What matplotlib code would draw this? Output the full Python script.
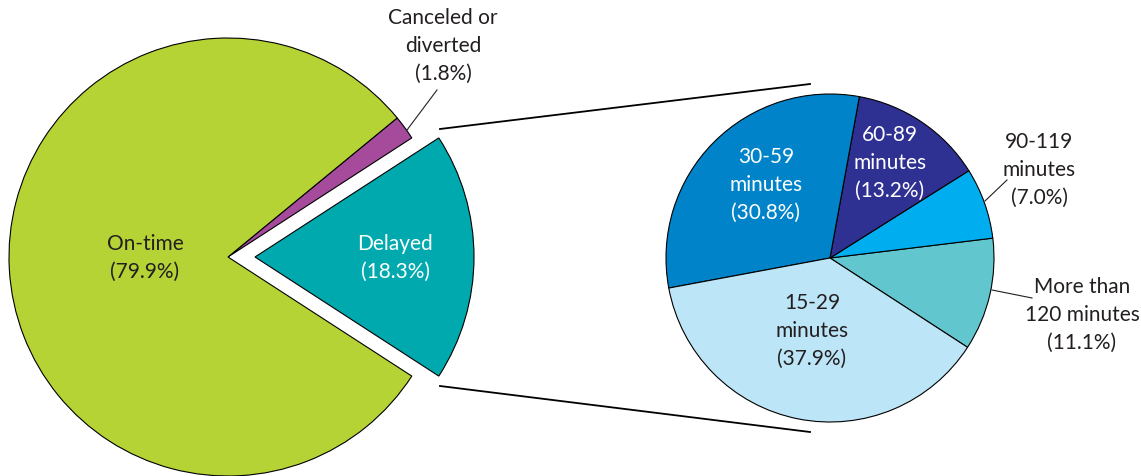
import matplotlib
matplotlib.use('Agg')
import matplotlib.pyplot as plt

# Flight status shares (%)
status_labels = ['Delayed\n(18.3%)', 'Canceled or\ndiverted\n(1.8%)', 'On-time\n(79.9%)']
status_values = [18.3, 1.8, 79.9]
status_colors = ['#00A9AD', '#A64B9B', '#B5D334']

# Breakdown of delayed flights (%)
delay_labels = ['More than\n120 minutes\n(11.1%)', '90-119\nminutes\n(7.0%)',
                '60-89\nminutes\n(13.2%)', '30-59\nminutes\n(30.8%)', '15-29\nminutes\n(37.9%)']
delay_values = [11.1, 7.0, 13.2, 30.8, 37.9]
delay_colors = ['#62C6CE', '#00AEEF', '#2E3192', '#0083C9', '#BDE5F8']

plt.rcParams['font.family'] = ['Lato', 'DejaVu Sans']
TXT = '#231F20'
H = 476

fig = plt.figure(figsize=(11.41, 4.76), dpi=100)
ax = fig.add_axes([0, 0, 1, 1])

#left pie, delayed slice pulled out
ax.pie(status_values, colors=status_colors, center=(228, H - 257), radius=219,
       startangle=-18.3 * 3.6 / 2, explode=[27, 0, 0], counterclock=True,
       wedgeprops=dict(edgecolor='black', linewidth=0.8))

#right pie
ax.pie(delay_values, colors=delay_colors, center=(830, H - 258), radius=164,
       startangle=-33, counterclock=True,
       wedgeprops=dict(edgecolor='black', linewidth=0.8))

ax.set_xlim(0, 1141)
ax.set_ylim(0, H)
ax.set_aspect('equal')
ax.axis('off')

#connector lines between pies
ax.plot([440, 810], [H - 129, H - 84], color='black', lw=1.3)
ax.plot([440, 810], [H - 386, H - 432], color='black', lw=1.3)

fs = 15
ls = 1.5
# left pie labels
ax.text(145, H - 258, status_labels[2], ha='center', va='center', fontsize=fs, color=TXT, linespacing=ls)
ax.text(395, H - 258, status_labels[0], ha='center', va='center', fontsize=fs, color='white', linespacing=ls)
ax.text(443, H - 46, status_labels[1], ha='center', va='center', fontsize=fs, color=TXT, linespacing=ls)
ax.plot([437, 407], [H - 90, H - 130], color=TXT, lw=0.8)

# right pie labels
ax.text(766, H - 185, delay_labels[3], ha='center', va='center', fontsize=fs, color='white', linespacing=ls)
ax.text(890, H - 163, delay_labels[2], ha='center', va='center', fontsize=fs, color='white', linespacing=ls)
ax.text(812, H - 331, delay_labels[4], ha='center', va='center', fontsize=fs, color=TXT, linespacing=ls)
ax.text(1039, H - 170, delay_labels[1], ha='center', va='center', fontsize=fs, color=TXT, linespacing=ls)
ax.plot([985, 1007], [H - 201, H - 180], color=TXT, lw=0.8)
ax.text(1082, H - 315, delay_labels[0], ha='center', va='center', fontsize=fs, color=TXT, linespacing=ls)
ax.plot([992, 1032], [H - 290, H - 298], color=TXT, lw=0.8)

fig.savefig('out.png', dpi=100)
